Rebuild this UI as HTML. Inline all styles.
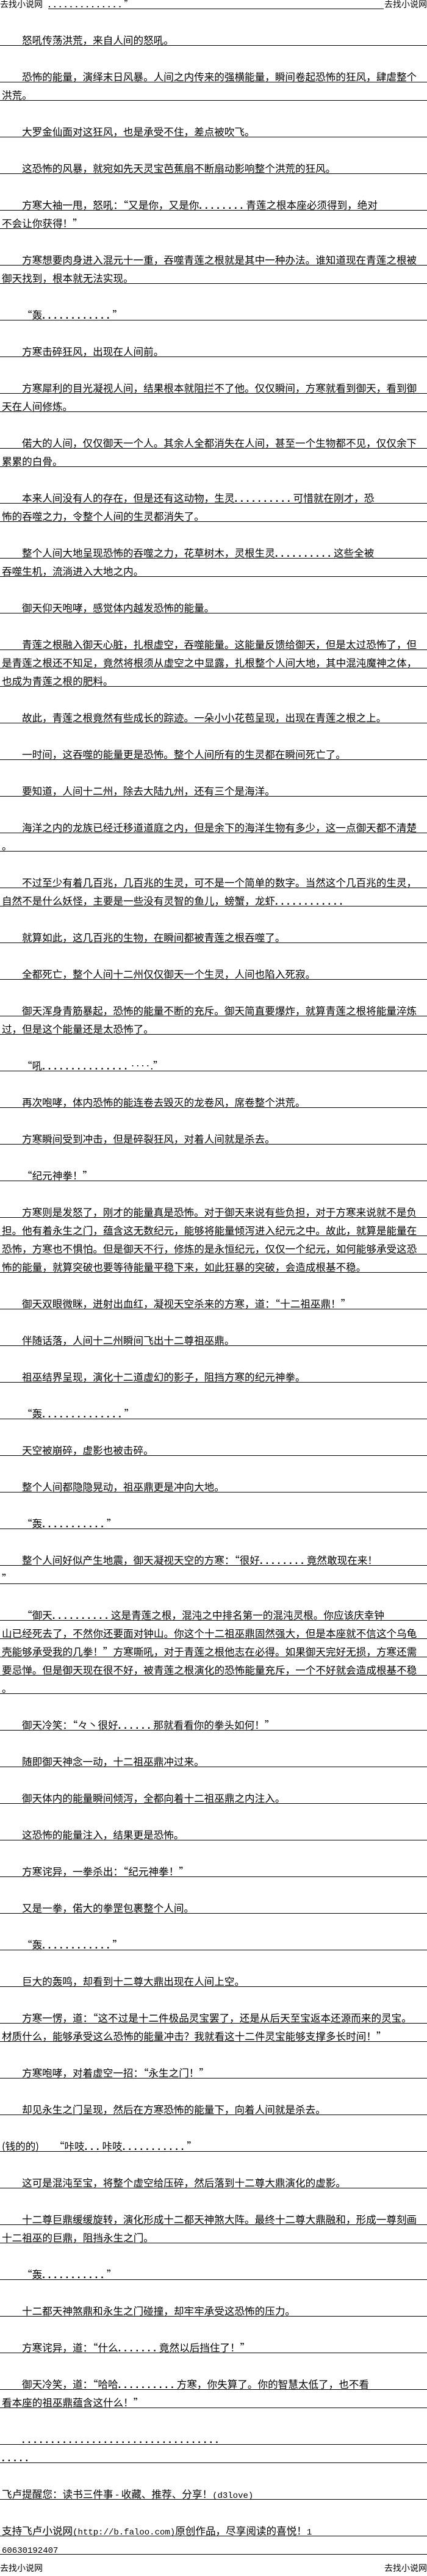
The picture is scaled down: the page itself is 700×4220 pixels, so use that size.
<!DOCTYPE html>
<html><head><meta charset="utf-8">
<style>
html,body{margin:0;padding:0;background:#fff;}
body{width:700px;height:4220px;overflow:hidden;position:relative;color:#000;
font-family:"Noto Sans CJK SC","WenQuanYi Zen Hei",sans-serif;}
.hd{position:relative;height:15px;font-size:14px;line-height:14px;}
.hd .a{position:absolute;left:0;top:0;}
.hd .m{position:absolute;left:79px;width:550px;top:0;height:14px;border-bottom:1px solid #000;font-size:14px;line-height:14px;}
.hd .c{position:absolute;right:0;top:0;}
.l,.b{height:30px;box-sizing:border-box;}
.l{border-bottom:1px solid #000;white-space:nowrap;font-size:16.6px;line-height:18px;padding-top:11px;padding-left:3px;overflow:hidden;}
.i{padding-left:36px;}
.d{letter-spacing:5px;font-family:"Liberation Sans",sans-serif;font-weight:bold;}
.s{font-size:14px;font-family:"Liberation Mono","Noto Sans CJK SC",monospace;}
.ft{position:relative;height:30px;font-size:14px;line-height:14px;}
.ft span{position:absolute;top:15px;}
</style></head><body>
<div class="hd"><span class="a">去找小说网</span><div class="m"><span class="d">..............</span>”</div><span class="c">去找小说网</span></div>
<div class="b"></div>
<div class="l i">怒吼传荡洪荒，来自人间的怒吼。</div>
<div class="b"></div>
<div class="l i">恐怖的能量，演绎末日风暴。人间之内传来的强横能量，瞬间卷起恐怖的狂风，肆虐整个</div>
<div class="l">洪荒。</div>
<div class="b"></div>
<div class="l i">大罗金仙面对这狂风，也是承受不住，差点被吹飞。</div>
<div class="b"></div>
<div class="l i">这恐怖的风暴，就宛如先天灵宝芭蕉扇不断扇动影响整个洪荒的狂风。</div>
<div class="b"></div>
<div class="l i">方寒大袖一甩，怒吼：“又是你，又是你<span class="d">........</span>青莲之根本座必须得到，绝对</div>
<div class="l">不会让你获得！”</div>
<div class="b"></div>
<div class="l i">方寒想要肉身进入混元十一重，吞噬青莲之根就是其中一种办法。谁知道现在青莲之根被</div>
<div class="l">御天找到，根本就无法实现。</div>
<div class="b"></div>
<div class="l i">“轰<span class="d">............</span>”</div>
<div class="b"></div>
<div class="l i">方寒击碎狂风，出现在人间前。</div>
<div class="b"></div>
<div class="l i">方寒犀利的目光凝视人间，结果根本就阻拦不了他。仅仅瞬间，方寒就看到御天，看到御</div>
<div class="l">天在人间修炼。</div>
<div class="b"></div>
<div class="l i">偌大的人间，仅仅御天一个人。其余人全都消失在人间，甚至一个生物都不见，仅仅余下</div>
<div class="l">累累的白骨。</div>
<div class="b"></div>
<div class="l i">本来人间没有人的存在，但是还有这动物，生灵<span class="d">..........</span>可惜就在刚才，恐</div>
<div class="l">怖的吞噬之力，令整个人间的生灵都消失了。</div>
<div class="b"></div>
<div class="l i">整个人间大地呈现恐怖的吞噬之力，花草树木，灵根生灵<span class="d">..........</span>这些全被</div>
<div class="l">吞噬生机，流淌进入大地之内。</div>
<div class="b"></div>
<div class="l i">御天仰天咆哮，感觉体内越发恐怖的能量。</div>
<div class="b"></div>
<div class="l i">青莲之根融入御天心脏，扎根虚空，吞噬能量。这能量反馈给御天，但是太过恐怖了，但</div>
<div class="l">是青莲之根还不知足，竟然将根须从虚空之中显露，扎根整个人间大地，其中混沌魔神之体，</div>
<div class="l">也成为青莲之根的肥料。</div>
<div class="b"></div>
<div class="l i">故此，青莲之根竟然有些成长的踪迹。一朵小小花苞呈现，出现在青莲之根之上。</div>
<div class="b"></div>
<div class="l i">一时间，这吞噬的能量更是恐怖。整个人间所有的生灵都在瞬间死亡了。</div>
<div class="b"></div>
<div class="l i">要知道，人间十二州，除去大陆九州，还有三个是海洋。</div>
<div class="b"></div>
<div class="l i">海洋之内的龙族已经迁移道道庭之内，但是余下的海洋生物有多少，这一点御天都不清楚</div>
<div class="l">。</div>
<div class="b"></div>
<div class="l i">不过至少有着几百兆，几百兆的生灵，可不是一个简单的数字。当然这个几百兆的生灵，</div>
<div class="l">自然不是什么妖怪，主要是一些没有灵智的鱼儿，螃蟹，龙虾<span class="d">............</span></div>
<div class="b"></div>
<div class="l i">就算如此，这几百兆的生物，在瞬间都被青莲之根吞噬了。</div>
<div class="b"></div>
<div class="l i">全都死亡，整个人间十二州仅仅御天一个生灵，人间也陷入死寂。</div>
<div class="b"></div>
<div class="l i">御天浑身青筋暴起，恐怖的能量不断的充斥。御天简直要爆炸，就算青莲之根将能量淬炼</div>
<div class="l">过，但是这个能量还是太恐怖了。</div>
<div class="b"></div>
<div class="l i">“吼<span class="d">...............</span>‥‥.”</div>
<div class="b"></div>
<div class="l i">再次咆哮，体内恐怖的能连卷去毁灭的龙卷风，席卷整个洪荒。</div>
<div class="b"></div>
<div class="l i">方寒瞬间受到冲击，但是碎裂狂风，对着人间就是杀去。</div>
<div class="b"></div>
<div class="l i">“纪元神拳！”</div>
<div class="b"></div>
<div class="l i">方寒则是发怒了，刚才的能量真是恐怖。对于御天来说有些负担，对于方寒来说就不是负</div>
<div class="l">担。他有着永生之门，蕴含这无数纪元，能够将能量倾泻进入纪元之中。故此，就算是能量在</div>
<div class="l">恐怖，方寒也不惧怕。但是御天不行，修炼的是永恒纪元，仅仅一个纪元，如何能够承受这恐</div>
<div class="l">怖的能量，就算突破也要等待能量平稳下来，如此狂暴的突破，会造成根基不稳。</div>
<div class="b"></div>
<div class="l i">御天双眼微眯，迸射出血红，凝视天空杀来的方寒，道：“十二祖巫鼎！”</div>
<div class="b"></div>
<div class="l i">伴随话落，人间十二州瞬间飞出十二尊祖巫鼎。</div>
<div class="b"></div>
<div class="l i">祖巫结界呈现，演化十二道虚幻的影子，阻挡方寒的纪元神拳。</div>
<div class="b"></div>
<div class="l i">“轰<span class="d">..............</span>”</div>
<div class="b"></div>
<div class="l i">天空被崩碎，虚影也被击碎。</div>
<div class="b"></div>
<div class="l i">整个人间都隐隐晃动，祖巫鼎更是冲向大地。</div>
<div class="b"></div>
<div class="l i">“轰<span class="d">...........</span>”</div>
<div class="b"></div>
<div class="l i">整个人间好似产生地震，御天凝视天空的方寒：“很好<span class="d">........</span>竟然敢现在来！</div>
<div class="l">”</div>
<div class="b"></div>
<div class="l i">“御天<span class="d">..........</span>这是青莲之根，混沌之中排名第一的混沌灵根。你应该庆幸钟</div>
<div class="l">山已经死去了，不然你还要面对钟山。你这个十二祖巫鼎固然强大，但是本座就不信这个乌龟</div>
<div class="l">壳能够承受我的几拳！”方寒嘶吼，对于青莲之根他志在必得。如果御天完好无损，方寒还需</div>
<div class="l">要忌惮。但是御天现在很不好，被青莲之根演化的恐怖能量充斥，一个不好就会造成根基不稳</div>
<div class="l">。</div>
<div class="b"></div>
<div class="l i">御天冷笑：“々丶很好<span class="d">......</span>那就看看你的拳头如何！”</div>
<div class="b"></div>
<div class="l i">随即御天神念一动，十二祖巫鼎冲过来。</div>
<div class="b"></div>
<div class="l i">御天体内的能量瞬间倾泻，全都向着十二祖巫鼎之内注入。</div>
<div class="b"></div>
<div class="l i">这恐怖的能量注入，结果更是恐怖。</div>
<div class="b"></div>
<div class="l i">方寒诧异，一拳杀出：“纪元神拳！”</div>
<div class="b"></div>
<div class="l i">又是一拳，偌大的拳罡包裹整个人间。</div>
<div class="b"></div>
<div class="l i">“轰<span class="d">............</span>”</div>
<div class="b"></div>
<div class="l i">巨大的轰鸣，却看到十二尊大鼎出现在人间上空。</div>
<div class="b"></div>
<div class="l i">方寒一愣，道：“这不过是十二件极品灵宝罢了，还是从后天至宝返本还源而来的灵宝。</div>
<div class="l">材质什么，能够承受这么恐怖的能量冲击？我就看这十二件灵宝能够支撑多长时间！”</div>
<div class="b"></div>
<div class="l i">方寒咆哮，对着虚空一招：“永生之门！”</div>
<div class="b"></div>
<div class="l i">却见永生之门呈现，然后在方寒恐怖的能量下，向着人间就是杀去。</div>
<div class="b"></div>
<div class="l">(钱的的)　　“咔吱<span class="d">...</span>咔吱<span class="d">...........</span>”</div>
<div class="b"></div>
<div class="l i">这可是混沌至宝，将整个虚空给压碎，然后落到十二尊大鼎演化的虚影。</div>
<div class="b"></div>
<div class="l i">十二尊巨鼎缓缓旋转，演化形成十二都天神煞大阵。最终十二尊大鼎融和，形成一尊刻画</div>
<div class="l">十二祖巫的巨鼎，阻挡永生之门。</div>
<div class="b"></div>
<div class="l i">“轰<span class="d">...........</span>”</div>
<div class="b"></div>
<div class="l i">十二都天神煞鼎和永生之门碰撞，却牢牢承受这恐怖的压力。</div>
<div class="b"></div>
<div class="l i">方寒诧异，道：“什么<span class="d">.......</span>竟然以后挡住了！”</div>
<div class="b"></div>
<div class="l i">御天冷笑，道：“哈哈<span class="d">..........</span>方寒，你失算了。你的智慧太低了，也不看</div>
<div class="l">看本座的祖巫鼎蕴含这什么！”</div>
<div class="b"></div>
<div class="l i"><span class="d">..................................</span></div>
<div class="l"><span class="d">.....</span></div>
<div class="b"></div>
<div class="l">飞卢提醒您：读书三件事 - 收藏、推荐、分享！<span class="s">(d3love)</span></div>
<div class="b"></div>
<div class="l">支持飞卢小说网<span class="s">(http://b.faloo.com)</span>原创作品，尽享阅读的喜悦！<span class="s">1</span></div>
<div class="l"><span class="s">60630192407</span></div>
<div class="ft"><span style="left:0">去找小说网</span><span style="right:0">去找小说网</span></div>
</body></html>
